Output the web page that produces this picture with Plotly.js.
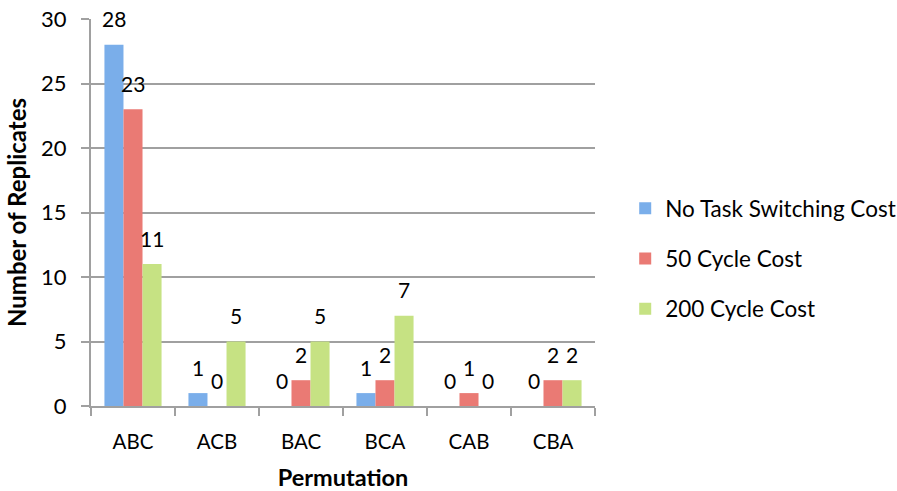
<!DOCTYPE html>
<html>
<head>
<meta charset="utf-8">
<script src="https://cdn.plot.ly/plotly-3.0.1.min.js"></script>
<style>html,body{margin:0;padding:0;background:#fff;}#chart{width:897px;height:491px;}</style>
</head>
<body>
<div id="chart"></div>
<script>
const categories = ["ABC", "ACB", "BAC", "BCA", "CAB", "CBA"];
const seriesNames = ["No Task Switching Cost", "50 Cycle Cost", "200 Cycle Cost"];
const noCost = [28, 1, 0, 1, 0, 0];
const cost50 = [23, 0, 2, 2, 1, 2];
const cost200 = [11, 5, 5, 7, 0, 2];
const yTicks = [0, 5, 10, 15, 20, 25, 30];

const colors = ["#7aaeea", "#ea7a74", "#c6e283"];
const values = [noCost, cost50, cost200];
const FONT = "Lato, 'Open Sans', sans-serif";

const W = 897, H = 491;
const margin = {l: 91, r: 302, t: 19, b: 85};
const bargap = 0.32;

const traces = values.map((v, i) => ({
  type: "bar",
  name: seriesNames[i],
  x: categories,
  y: v,
  legendgroup: "g" + i,
  marker: {color: colors[i], line: {width: 0}},
  cliponaxis: false,
  hoverinfo: "x+y+name"
}));

// data labels placed above each bar, Excel style
const plotW = W - margin.l - margin.r;
const barPx = plotW / categories.length * (1 - bargap) / values.length;
const annotations = [];
values.forEach((v, i) => {
  v.forEach((val, j) => {
    annotations.push({
      xref: "x", yref: "y", x: categories[j], y: val,
      text: String(val), showarrow: false,
      xanchor: "center", yanchor: "middle",
      xshift: (i - (values.length - 1) / 2) * barPx,
      yshift: 26,
      font: {family: FONT, size: 21, color: "#000"}
    });
  });
});

const layout = {
  width: W, height: H,
  margin: margin,
  paper_bgcolor: "#fff", plot_bgcolor: "#fff",
  font: {family: FONT, size: 20, color: "#000"},
  barmode: "group",
  bargap: bargap,
  bargroupgap: 0,
  showlegend: true,
  annotations: annotations,
  legend: {
    xref: "container", yref: "container",
    x: 0.697, y: 0.619, xanchor: "left", yanchor: "top",
    font: {family: FONT, size: 22.5, color: "#000"},
    tracegroupgap: 18,
    traceorder: "grouped",
    itemwidth: 30
  },
  xaxis: {
    type: "category",
    showline: true, linecolor: "#a0a0a0", linewidth: 2,
    ticks: "outside", tickson: "boundaries", ticklen: 8, tickwidth: 2, tickcolor: "#a0a0a0",
    tickfont: {family: FONT, size: 20.5},
    ticklabelstandoff: 16,
    showgrid: false,
    automargin: false,
    title: {text: "<b>Permutation</b>", font: {family: FONT, size: 23.5}, standoff: 20}
  },
  yaxis: {
    range: [0, 30],
    tickvals: yTicks,
    showline: true, linecolor: "#a0a0a0", linewidth: 2,
    ticks: "outside", ticklen: 8, tickwidth: 2, tickcolor: "#a0a0a0",
    ticklabelstandoff: 10,
    showgrid: true, gridcolor: "#a0a0a0", gridwidth: 2,
    zeroline: false,
    automargin: false,
    tickfont: {family: FONT, size: 22},
    title: {text: "<b>Number of Replicates</b>", font: {family: FONT, size: 24}, standoff: 8}
  }
};

Plotly.newPlot("chart", traces, layout, {displayModeBar: false, staticPlot: true});
</script>
</body>
</html>
